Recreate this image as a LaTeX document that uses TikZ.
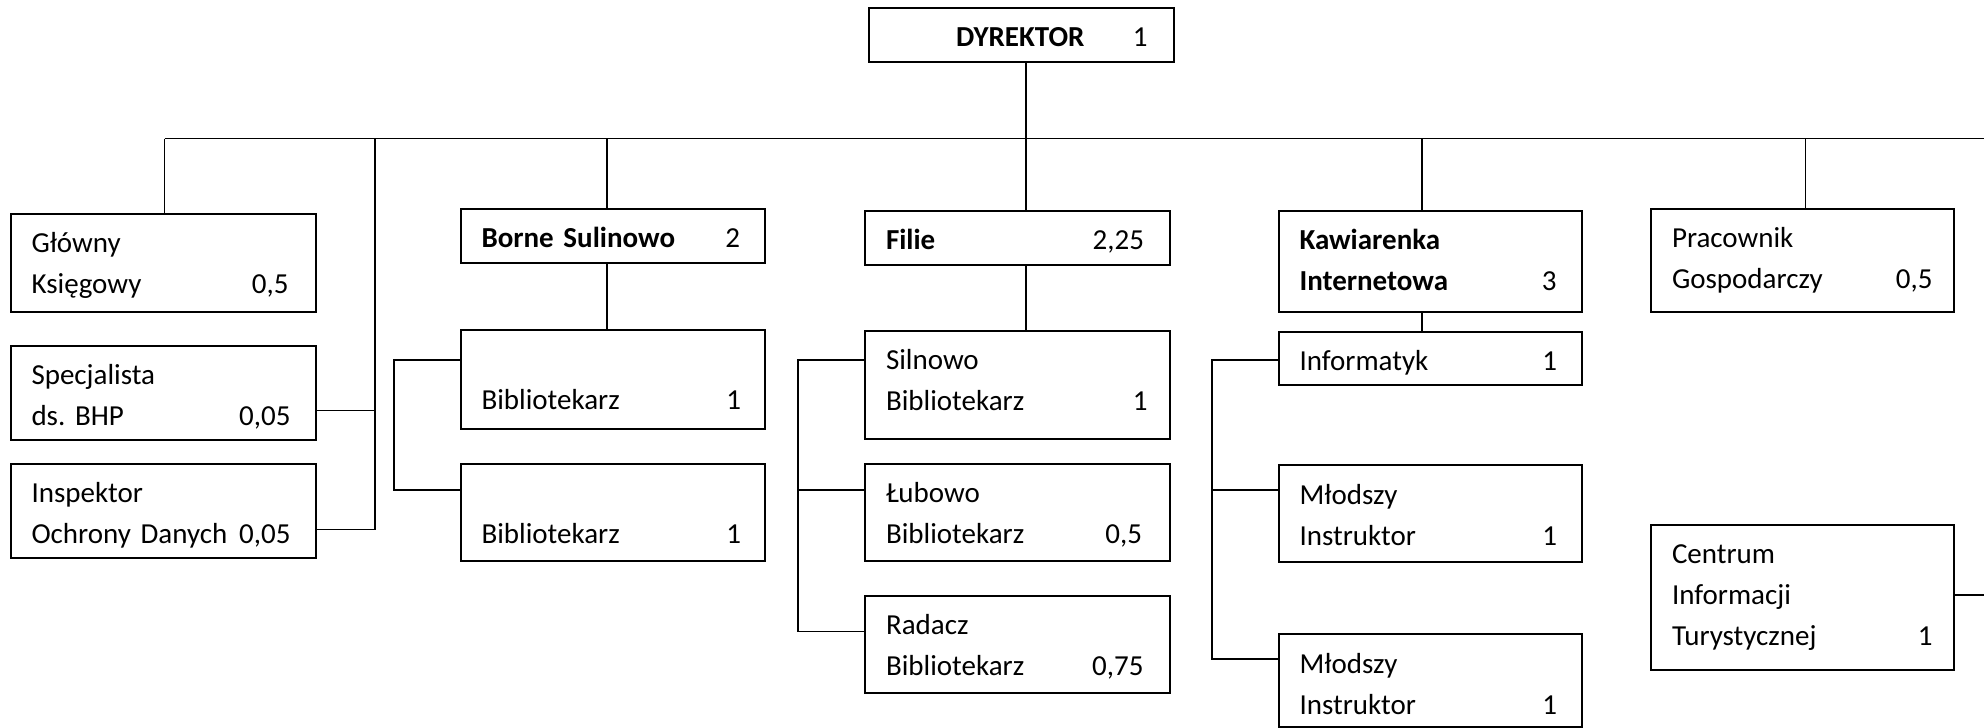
\documentclass[tikz,border=0pt]{standalone}
\usepackage{fontspec}
\setmainfont{Carlito}
\frenchspacing
\newcommand\lr[3]{\hbox to \linewidth{#1\hfill #2\hspace*{#3pt}}}
\begin{document}
\begin{tikzpicture}[x=1pt,y=-1pt]
\tikzset{
  box/.style={draw, line width=2pt, inner xsep=21pt, inner ysep=0pt, outer sep=0pt,
    anchor=base west, align=left, font=\fontsize{29pt}{41pt}\selectfont\frenchspacing},
  wire/.style={line width=1.2pt}
}
\useasboundingbox (0,0) rectangle (1984,728);

% boxes
\node[box, text width=263pt, text height=38.5pt, text depth=15.5pt] (dyr) at (869,46.5)
  {\lr{\hspace*{66pt}\textbf{DYREKTOR}}{1}{5.5}};
\node[box, text width=263pt, text height=38.5pt, text depth=60pt] (gk) at (10.5,252)
  {Główny\\\lr{Księgowy}{0,5}{6}};
\node[box, text width=263pt, text height=38.5pt, text depth=55.5pt] (bhp) at (10.5,384)
  {Specjalista\\\lr{ds. BHP}{0,05}{4}};
\node[box, text width=263pt, text height=38.5pt, text depth=55.5pt] (iod) at (10.5,502.5)
  {Inspektor\\\lr{Ochrony Danych}{0,05}{4}};
\node[box, text width=262.5pt, text height=38.5pt, text depth=15.5pt] (bs) at (460.5,247)
  {\lr{\textbf{Borne Sulinowo}}{2}{4}};
\node[box, text width=262.5pt, text height=79.5pt, text depth=19.5pt] (bib1) at (460.5,409.5)
  {\lr{Bibliotekarz}{1}{3}};
\node[box, text width=262.5pt, text height=79.5pt, text depth=17.5pt] (bib2) at (460.5,543.5)
  {\lr{Bibliotekarz}{1}{3}};
\node[box, text width=262.5pt, text height=38.5pt, text depth=16pt] (fil) at (865,249)
  {\lr{\textbf{Filie}}{2,25}{4.5}};
\node[box, text width=262.5pt, text height=38.5pt, text depth=70pt] (sil) at (865,369)
  {Silnowo\\\lr{Bibliotekarz}{1}{1}};
\node[box, text width=262.5pt, text height=38.5pt, text depth=58.5pt] (lub) at (865,502.5)
  {Łubowo\\\lr{Bibliotekarz}{0,5}{6.5}};
\node[box, text width=262.5pt, text height=38.5pt, text depth=58.5pt] (rad) at (865,634.5)
  {Radacz\\\lr{Bibliotekarz}{0,75}{5}};
\node[box, text width=261.5pt, text height=38.5pt, text depth=62.5pt] (kaw) at (1278.5,249)
  {\textbf{Kawiarenka}\\\lr{\textbf{Internetowa}}{3}{4.5}};
\node[box, text width=261.5pt, text height=38.5pt, text depth=15pt] (inf) at (1278.5,370)
  {\lr{Informatyk}{1}{4}};
\node[box, text width=261.5pt, text height=39pt, text depth=57.5pt] (ml1) at (1278.5,504)
  {Młodszy\\\lr{Instruktor}{1}{4}};
\node[box, text width=261.5pt, text height=39pt, text depth=54pt] (ml2) at (1278.5,673)
  {Młodszy\\\lr{Instruktor}{1}{4}};
\node[box, text width=261pt, text height=38.5pt, text depth=64.5pt] (pra) at (1651,247)
  {Pracownik\\\lr{Gospodarczy}{0,5}{0.5}};
\node[box, text width=261pt, text height=38.5pt, text depth=106pt] (cit) at (1651,563.5)
  {Centrum\\Informacji\\\lr{Turystycznej}{1}{0.5}};

% connector coordinates
\coordinate (busL) at (164.5,138.5);
\coordinate (busR) at (1984,138.5);
\coordinate (sx) at (375,138.5);
\coordinate (sb) at (375,410.5);
\coordinate (si) at (375,529.5);
\coordinate (bx) at (607,138.5);
\coordinate (bb1) at (394,360);
\coordinate (bb2) at (394,490);
\coordinate (cx) at (1026,138.5);
\coordinate (f1) at (798,360);
\coordinate (f2) at (798,490);
\coordinate (f3) at (798,631.5);
\coordinate (kx) at (1422,138.5);
\coordinate (k1) at (1212,360);
\coordinate (k2) at (1212,490);
\coordinate (k3) at (1212,659);
\coordinate (px) at (1805.5,138.5);
\coordinate (ce) at (1984,595);

% connectors
\draw[wire] (busL) -- (busR);
\draw[wire] (busL) -- (busL |- gk.north);
\draw[wire] (sx) -- (si) -- (si -| iod.east);
\draw[wire] (sb) -- (sb -| bhp.east);
\draw[wire] (bx) -- (bx |- bs.north);
\draw[wire] (bx |- bs.south) -- (bx |- bib1.north);
\draw[wire] (bb1 -| bib1.west) -- (bb1) -- (bb2) -- (bb2 -| bib2.west);
\draw[wire] (cx |- dyr.south) -- (cx |- fil.north);
\draw[wire] (cx |- fil.south) -- (cx |- sil.north);
\draw[wire] (f1 -| sil.west) -- (f1) -- (f3) -- (f3 -| rad.west);
\draw[wire] (f2) -- (f2 -| lub.west);
\draw[wire] (kx) -- (kx |- kaw.north);
\draw[wire] (kx |- kaw.south) -- (kx |- inf.north);
\draw[wire] (k1 -| inf.west) -- (k1) -- (k3) -- (k3 -| ml2.west);
\draw[wire] (k2) -- (k2 -| ml1.west);
\draw[wire] (px) -- (px |- pra.north);
\draw[wire] (ce -| cit.east) -- (ce);
\end{tikzpicture}
\end{document}
